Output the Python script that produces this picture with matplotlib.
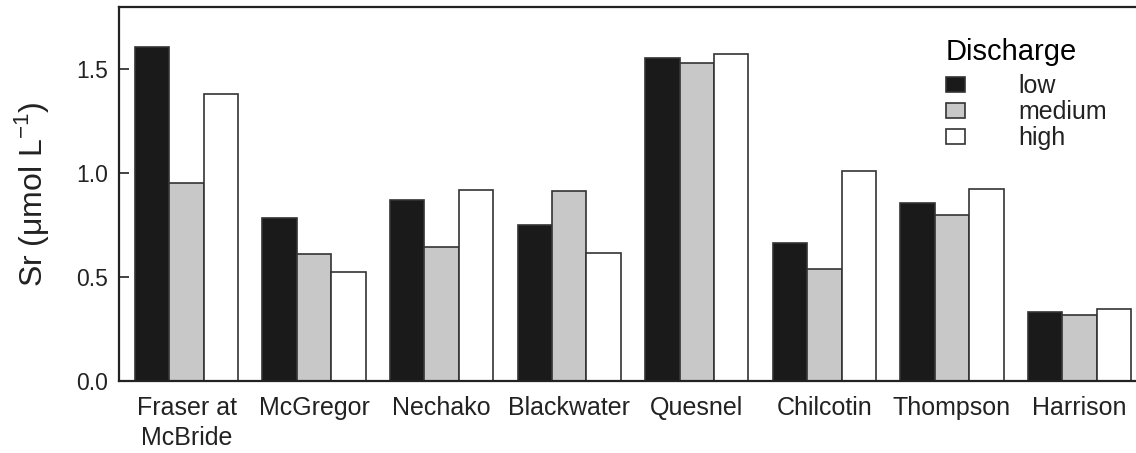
import numpy as np
import matplotlib.pyplot as plt

# Sr concentrations by river and discharge stage
rivers = ['Fraser at\nMcBride', 'McGregor', 'Nechako', 'Blackwater', 'Quesnel',
          'Chilcotin', 'Thompson', 'Harrison']
sr_low = [1.606, 0.785, 0.873, 0.750, 1.554, 0.662, 0.856, 0.333]
sr_medium = [0.953, 0.611, 0.644, 0.913, 1.532, 0.540, 0.801, 0.317]
sr_high = [1.381, 0.527, 0.918, 0.614, 1.574, 1.010, 0.926, 0.345]

plt.rcParams['font.family'] = ['Liberation Sans', 'DejaVu Sans']

fig = plt.figure(figsize=(11.36, 4.53), dpi=100)
# axes run slightly past the right edge of the figure
ax = fig.add_axes([119 / 1136, 72 / 453, 1028 / 1136, 374 / 453])

x = np.arange(len(rivers))
w = 0.27
edge = '#333333'
ax.bar(x - w, sr_low, w, color='#1a1a1a', edgecolor=edge, linewidth=1.2, label='low')
ax.bar(x, sr_medium, w, color='#c8c8c8', edgecolor=edge, linewidth=1.2, label='medium')
ax.bar(x + w, sr_high, w, color='white', edgecolor=edge, linewidth=1.2, label='high')

ax.set_xlim(-0.53, len(rivers) - 1 + 0.53)
ax.set_ylim(0, 1.8)
ax.set_yticks([0.0, 0.5, 1.0, 1.5])
ax.set_yticklabels(['0.0', '0.5', '1.0', '1.5'])
ax.set_xticks(x)
ax.set_xticklabels(rivers, linespacing=1.3)

ax.tick_params(axis='y', direction='in', length=7, width=1.2, labelsize=16.5,
               pad=8, colors='#222222')
ax.tick_params(axis='x', length=0, labelsize=18, pad=11, colors='#222222')
for s in ax.spines.values():
    s.set_linewidth(1.6)
    s.set_color('#222222')

ax.set_ylabel('Sr (\u03bcmol L$^{\\mathregular{-1}}$)', fontsize=23, color='#222222',
              labelpad=18)

leg = ax.legend(title='Discharge', loc='upper left', frameon=False,
                bbox_to_anchor=(946 / 1136, 1 - 38 / 453), bbox_transform=fig.transFigure,
                fontsize=18, title_fontsize=21, handlelength=0.76, handleheight=0.6,
                handletextpad=2.15, labelspacing=0.08, borderpad=0, borderaxespad=0)
leg._legend_box.align = 'left'
leg._legend_box.sep = 6
for t in leg.get_texts():
    t.set_color('#222222')

fig.savefig('out.png', dpi=100)
